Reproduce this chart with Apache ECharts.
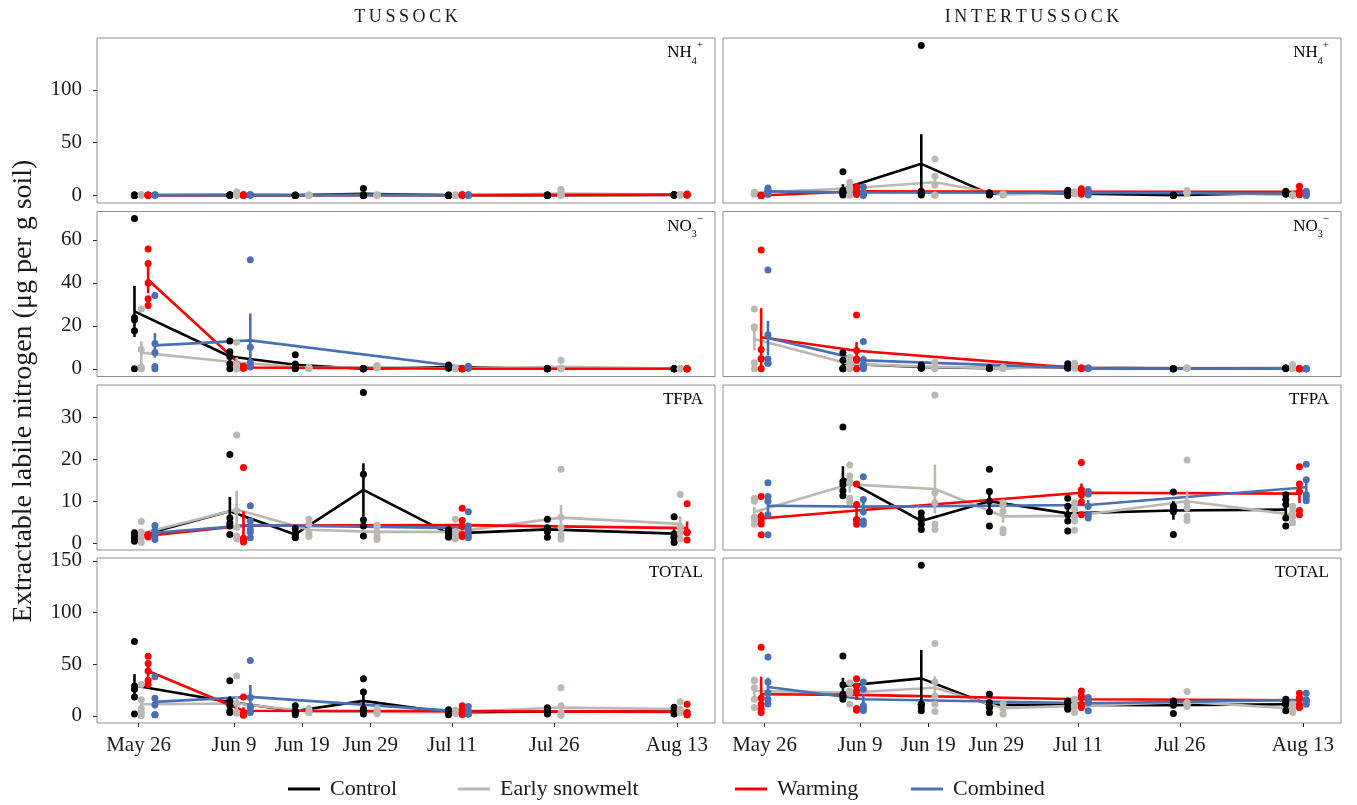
<!DOCTYPE html>
<html>
<head>
<meta charset="utf-8">
<script src="https://cdn.jsdelivr.net/npm/echarts@6/dist/echarts.min.js"></script>
<style>
  html, body { margin: 0; padding: 0; background: #fff; }
  #chart { width: 1357px; height: 805px; }
</style>
</head>
<body>
<div id="chart"></div>
<script>
// treatments, colours and axis ticks
var treatments = ['Control', 'Early snowmelt', 'Warming', 'Combined'];
var colors = ['#000000', '#bcb8b1', '#ff0000', '#4a6fb5'];
var tickDays = [0, 14, 24, 34, 46, 61, 79];
var tickLabels = ['May 26', 'Jun 9', 'Jun 19', 'Jun 29', 'Jul 11', 'Jul 26', 'Aug 13'];
var panelNames = ['NH4', 'NO3', 'TFPA', 'TOTAL'];
var yTicks = [[0, 50, 100], [0, 20, 40, 60], [0, 10, 20, 30], [0, 50, 100, 150]];

// sampling days (days after May 26, dodged per treatment)
var tusDaysCtrl = [-0.6, 13.4, 23, 33, 45.5, 60, 78.6];
var tusDaysSnow = [0.4, 14.4, 25, 35, 46.5, 62, 79.5];
var tusDaysWarm = [1.4, 15.4, 47.5, 80.5];
var tusDaysComb = [2.4, 16.4, 48.4];
var intDaysCtrl = [11.5, 23, 33, 44.5, 60, 76.5];
var intDaysSnow = [-1.5, 12.5, 25, 35, 45.5, 62, 77.5];
var intDaysWarm = [-0.5, 13.5, 46.5, 78.5];
var intDaysComb = [0.5, 14.5, 47.5, 79.5];

// rows: [mean, se, replicate values...]
// NH4+
var tusNh4Ctrl = [[0.3,0.1,0,0.2,0.4,0.5,0.3],[0.4,0.2,0.1,0.3,0.5,0.8,0.4],[0.2,0.1,0,0.1,0.2,0.3,0.4],[1.5,1.3,6.6,0.1,0.3,0.2,0.4],[0.2,0.1,0,0.2,0.3,0.4,0.1],[0.3,0.1,0.1,0.3,0.5,0.4,0.2],[0.6,0.2,0.5,1.0,0.8,0.3,0.4]];
var tusNh4Snow = [[0.5,0.2,0.2,0.5,0.8,0.4,0.6],[1.0,0.6,3.5,0.3,0.5,0.2,0.4],[0.3,0.1,0.2,0.3,0.5,0.1,0.4],[0.4,0.2,0.2,0.5,0.8,0.1,0.3],[0.3,0.1,0.2,0.4,0.1,0.5,0.3],[1.8,1.0,5.7,2.5,0.2,0.4,0.3],[0.8,0.3,0.5,1.2,0.8,0.3,1.0]];
var tusNh4Warm = [[0.3,0.1,0.2,0.3,0.5,0.1,0.4],[0.4,0.1,0.3,0.5,0.2,0.6,0.4],[0.4,0.1,0.4,0.2,0.6,0.5,0.3],[0.8,0.3,0.5,1.5,1.0,0.4,0.6]];
var tusNh4Comb = [[0.4,0.1,0.3,0.5,0.2,0.6,0.4],[0.5,0.1,0.4,0.6,0.3,0.7,0.5],[0.4,0.1,0.3,0.5,0.2,0.6,0.4]];
var intNh4Ctrl = [[6.5,4.2,22.6,5,3,1.5,0.5],[30,28,142,4,3,2,0.5],[1.6,0.5,2.5,1.5,1,0.5,2.2],[2,1,5,3,1.5,0.5,0],[0.3,0.1,0.5,0.3,0.2,0.1,0.3],[2.5,0.6,4,3,2.5,1.8,1.2]];
var intNh4Snow = [[2.5,0.5,3.2,2.8,2.0,1.3,3.0],[6.8,2.2,12.6,7.2,8,6,0.3],[12.6,6,34.6,18.2,10,0.3,0.5],[1,0.3,1.5,1,0.5,1.2,0.8],[2.4,0.4,3.5,2.5,2,2.8,1.5],[3,0.5,4.7,3,2.5,2.2,2.6],[0.3,0.1,0.5,0.3,0.2,0.4,0.1]];
var intNh4Warm = [[0,0.1,0,0,0,0.1,0.2],[4,1.3,8.5,5,3.5,2,1],[3.4,0.9,6.3,4,3,2.5,1.3],[3.5,1.4,8.8,4,2.5,1.5,0.7]];
var intNh4Comb = [[3.9,1,7,5,4,2.5,1],[2.8,1.4,8,3,2,1,0],[2.6,0.9,5.7,3,2.5,1.5,0.5],[1.6,0.7,4,2,1.5,0.5,0]];
// NO3-
var tusNo3Ctrl = [[26.7,11.9,69.9,23.7,22.8,17.7,0],[5.7,2.3,12.9,7.9,5.7,2.2,0],[1.9,1.2,6.5,2.2,0.6,0,0.1],[0,0,0,0,0,0,0],[0.8,0.3,1.7,1.0,0.5,0.6,0.2],[0,0,0,0,0,0,0],[0,0,0,0,0,0,0]];
var tusNo3Snow = [[7.5,5.3,27.8,9.1,0.8,0,0],[2.9,2.4,12.4,1.9,0,0,0.2],[0.4,0.2,0.5,0.8,0.3,0.2,0.1],[0.8,0.3,1.5,0.5,1.2,0.6,0.3],[0.1,0.1,0,0.2,0.1,0,0.2],[0.9,0.8,4.0,0.3,0.2,0,0],[0.1,0.1,0,0.1,0.2,0,0]];
var tusNo3Warm = [[41.4,6.2,55.8,49,32.6,29.5,39.9],[0.6,0.3,1.2,0.8,0.3,0.5,0.2],[0,0,0,0,0,0,0],[0,0,0,0,0,0,0]];
var tusNo3Comb = [[10.9,5.7,34.1,11.8,7.6,1,0],[13.2,12.5,50.7,10,3,1.5,0.8],[0.6,0.3,1.2,0.8,0.5,0.3,0.2]];
var intNo3Ctrl = [[2.3,1.4,7.4,4,0,0.2,0],[0.8,0.4,1.8,1.2,0.5,0.2,0.3],[0.3,0.1,0.5,0.3,0.2,0.1,0.4],[0.9,0.4,2.3,1,0.5,0.4,0.3],[0,0,0,0,0,0,0],[0.2,0.1,0.3,0.2,0.1,0.2,0.2]];
var intNo3Snow = [[13.8,5.3,27.8,19.5,19,2.8,0],[2.2,1,5.3,2.6,2.5,0.5,0],[0.9,0.6,3.1,0,0.5,0.3,0.6],[0.3,0.1,0.5,0.3,0.2,0.1,0.4],[0.8,0.5,2.6,0.5,0.4,0.3,0.2],[0.3,0.1,0.5,0.3,0.2,0.1,0.4],[0.5,0.4,2,0.2,0.1,0.1,0.1]];
var intNo3Warm = [[14.7,13.5,55.3,9,4.7,4.5,0],[8.4,4,25,4,4.5,8.5,0],[0.2,0.1,0.3,0.2,0.1,0.2,0.2],[0,0,0,0,0,0,0]];
var intNo3Comb = [[14.3,8,46,15.8,4.5,2.6,2.6],[3.9,2.2,12.7,4.2,1.9,0.6,0],[0.2,0.1,0.3,0.2,0.1,0.2,0.2],[0,0,0,0,0,0,0]];
// TFPA
var tusTfpaCtrl = [[1.5,0.4,2.5,1.8,1.2,0.9,0.5],[7.6,3.4,21.1,6.0,4.8,4.1,2.1],[2.1,0.6,3.5,2.3,1.3,2,1.4],[12.7,6.3,35.8,16.4,5.6,4.1,1.7],[2.3,0.4,3.2,2.9,2.4,1.6,1.4],[3.3,0.8,5.7,3.7,2.9,1.4,2.8],[2.3,1,6.3,1.3,1.5,0.2,2.2]];
var tusTfpaSnow = [[2.3,0.8,5.2,2.1,1.3,0.2,2.7],[8.0,4.5,25.7,7.8,3.8,1.7,1],[3.2,0.7,5.7,4.5,2.5,1.7,1.6],[2.7,0.6,4.1,2.7,1.5,0.9,4.3],[2.7,0.8,5.7,2.5,1,1.5,2.8],[6.1,3,17.6,3.7,2,1,6.2],[4.6,1.8,11.6,4.1,1,2.5,3.8]];
var tusTfpaWarm = [[1.8,0.2,1.7,1.5,2.1,1.9,1.8],[4.2,3.4,18,1.2,0.9,0.6,0.3],[4.3,1.2,8.3,5.4,4.1,1.6,2.1],[3.6,1.6,9.4,2.7,0.8,2.5,2.6]];
var tusTfpaComb = [[2.5,0.6,4.2,2.9,1.7,0.9,2.8],[4.3,1.4,8.9,5.3,2.7,1.3,3.3],[3.6,1.2,7.5,4.1,2,1.3,3.1]];
var intTfpaCtrl = [[15.5,2.8,27.6,14.7,13.9,12.5,11.3],[5.3,0.8,7.2,6,4.5,3.3,5.5],[10,2.3,17.6,12.3,10,7.5,4.1],[7.1,1.5,10.7,8.8,6.8,5.3,2.9],[7.8,2.2,12.2,8.8,8.4,2.1,7.5],[8,1.7,11.5,10.4,9.2,6,4.1]];
var intTfpaSnow = [[7.4,1.2,10.7,10,5.6,4.5,6.2],[14,2,18.6,14.7,10.7,9.8,16],[12.9,5.8,35.2,9.6,12,4.5,3.3],[6.4,1.5,9.6,7.6,3.3,2.5,9],[6.5,1.1,9.6,8,6.4,5.3,3.1],[10,2.5,19.8,9.6,8.4,6.4,5.4],[6.8,0.8,8.8,7.6,6.4,4.9,6.3]];
var intTfpaWarm = [[5.9,1.6,11.1,6.4,5.3,2,4.6],[7.8,1.9,14.1,9.2,5.6,4.5,5.6],[12,2.2,19.2,12.7,11.5,9.8,6.8],[11.8,2.2,18.2,14.1,12.3,7.8,6.8]];
var intTfpaComb = [[8.9,2.2,14.4,11.1,10,6.8,2],[8.7,2.1,15.8,10.4,5.3,4.5,7.5],[9.1,1.2,12.3,11.7,8.8,6.8,6],[13.3,1.9,18.8,15.1,10.1,11.5,11]];
// TOTAL
var tusTotCtrl = [[29.3,11,72,28.8,25.6,18.3,1.6],[13.3,5.6,34,14.4,10.3,3.2,4.6],[4.6,1.6,9.6,3.2,1,4.5,4.7],[14.4,6.5,35.9,23,4.8,1.6,6.7],[3.2,1,5.8,1,3.2,2.5,3.5],[4.2,1.1,7.7,3.8,1.6,4.5,3.4],[4.2,1.2,8.3,3.8,1.6,3.5,3.8]];
var tusTotSnow = [[11.2,5.5,30.4,15.4,3.2,0,7],[11.9,6.7,38.5,12.2,3.2,2.5,3.1],[4.2,1.2,7,3.2,4.5,3,3.3],[3.8,1.1,7,1.6,4,3,3.4],[3.5,0.8,5.5,2,3.5,3,3.5],[8,4.3,27.2,3.2,9.6,0.6,0.4],[6.4,1.8,13.5,6.4,3.2,4.5,4.4]];
var tusTotWarm = [[43.3,6.4,57.7,50.6,43.3,34.3,30.4],[4.8,3.5,18.3,3,1,1.2,0.5],[4.5,1.3,9.6,6.4,3.2,2,1.3],[3.8,2,11.2,3.2,1,2.5,1.1]];
var tusTotComb = [[13.5,6.5,37.8,17,10.6,1,1.1],[18.3,11.5,53.5,17.6,8,3.2,9.2],[3.8,1.4,9,4.8,1.6,2,1.6]];
var intTotCtrl = [[28.8,8,58,20.8,16,30,19],[36.2,27.5,145.8,11.2,4.8,8,11.2],[10.6,3.1,20.8,12.8,8,3.2,8.2],[10.6,2,14.4,12.2,12,8,6.4],[10.3,2.5,14.4,10.3,2.2,12.5,12.1],[11.2,2,16,12.8,4.8,11,11.4]];
var intTotSnow = [[24,5,34.6,27.2,16,8,34.2],[22.4,4,32,24,11.2,22,22.8],[27.2,11,69.9,32.7,19.2,11.2,4.2],[7.4,2,12.2,1.6,8,7,8.2],[9.6,2.3,16,9.6,3.2,9,10.2],[13.5,2.5,23.4,12.8,9,11,11.3],[7,1.6,11.2,3.2,7,6.8,6.8]];
var intTotWarm = [[20.8,17,66.3,17,11.2,6.4,3.2],[20.2,5,35.9,28.8,24,5.4,7],[16,2.8,24,19.2,11.2,8,17.6],[15,2.5,21.8,16.7,11.2,8,17.3]];
var intTotComb = [[27.9,9,57,32.7,22.4,16,11.4],[16,5,32.7,25.6,9.6,5.1,7],[12.2,2.5,17.6,12.8,4.8,13,12.8],[15.4,2.5,21.8,15.4,11.2,14,14.6]];

// lookup tables built from the arrays above
var siteDays = [
  [tusDaysCtrl, tusDaysSnow, tusDaysWarm, tusDaysComb],
  [intDaysCtrl, intDaysSnow, intDaysWarm, intDaysComb]
];
var panelRows = [
  [[tusNh4Ctrl, tusNh4Snow, tusNh4Warm, tusNh4Comb], [intNh4Ctrl, intNh4Snow, intNh4Warm, intNh4Comb]],
  [[tusNo3Ctrl, tusNo3Snow, tusNo3Warm, tusNo3Comb], [intNo3Ctrl, intNo3Snow, intNo3Warm, intNo3Comb]],
  [[tusTfpaCtrl, tusTfpaSnow, tusTfpaWarm, tusTfpaComb], [intTfpaCtrl, intTfpaSnow, intTfpaWarm, intTfpaComb]],
  [[tusTotCtrl, tusTotSnow, tusTotWarm, tusTotComb], [intTotCtrl, intTotSnow, intTotWarm, intTotComb]]
];

var FONT = "'Liberation Serif', 'DejaVu Serif', serif";
var TXT = '#1a1a1a';
var gridTops = [38, 211.5, 385, 558];
var gridLefts = [97, 723];
var yMin = [-7.1, -3.6, -1.6, -7.0];
var yMax = [149.2, 73.2, 37.6, 152.8];

var myChart = echarts.init(document.getElementById('chart'));

var grids = [], xAxes = [], yAxes = [], series = [], graphics = [];

var labelRich = {
  m: { fontFamily: FONT, fontSize: 17, color: TXT, lineHeight: 20 },
  s: { fontFamily: FONT, fontSize: 10, color: TXT, verticalAlign: 'bottom', padding: [0, 0, -3, 0] },
  p: { fontFamily: FONT, fontSize: 11, color: TXT, verticalAlign: 'top', padding: [-3, 0, 0, 0] }
};
var panelText = ['{m|NH}{s|4}{p|+}', '{m|NO}{s|3}{p|\u2212}', '{m|TFPA}', '{m|TOTAL}'];

for (var r = 0; r < 4; r++) {
  for (var c = 0; c < 2; c++) {
    var k = r * 2 + c;
    grids.push({
      left: gridLefts[c], top: gridTops[r], width: 618, height: 165,
      show: true, borderColor: '#8f8f8f', borderWidth: 1, backgroundColor: '#fff'
    });
    xAxes.push({
      gridIndex: k, type: 'value', min: -6.1, max: 84.6, position: 'bottom',
      axisLine: { show: false, onZero: false }, splitLine: { show: false },
      axisTick: { show: r === 3, customValues: tickDays, length: 4, lineStyle: { color: '#333' } },
      axisLabel: {
        show: r === 3, customValues: tickDays, margin: 12,
        fontFamily: FONT, fontSize: 21, color: TXT,
        formatter: function (v) { return tickLabels[tickDays.indexOf(v)]; }
      }
    });
    yAxes.push({
      gridIndex: k, type: 'value', min: yMin[r], max: yMax[r], position: 'left',
      axisLine: { show: false, onZero: false }, splitLine: { show: false },
      axisTick: { show: c === 0, customValues: yTicks[r], length: 4, lineStyle: { color: '#333' } },
      axisLabel: {
        show: c === 0, customValues: yTicks[r], margin: 15,
        fontFamily: FONT, fontSize: 21, color: TXT
      }
    });

    var panelSeries = [[], [], []];
    for (var t = 0; t < 4; t++) {
      var days = siteDays[c][t];
      var rows = panelRows[r][c][t];
      var lineData = [], barData = [], ptData = [];
      rows.forEach(function (row, i) {
        lineData.push([days[i], row[0]]);
        barData.push([days[i], row[0] - row[1], row[0] + row[1]]);
        for (var j = 2; j < row.length; j++) ptData.push([days[i], row[j]]);
      });
      panelSeries[0].push({
        name: treatments[t], type: 'line', xAxisIndex: k, yAxisIndex: k,
        data: lineData, showSymbol: false, z: 2,
        itemStyle: { color: colors[t] },
        lineStyle: { color: colors[t], width: 2.6 }
      });
      panelSeries[1].push({
        name: treatments[t] + ' se', type: 'custom', xAxisIndex: k, yAxisIndex: k,
        data: barData, z: 3,
        encode: { x: 0, y: [1, 2] },
        renderItem: (function (col) {
          return function (params, api) {
            var a = api.coord([api.value(0), api.value(1)]);
            var b = api.coord([api.value(0), api.value(2)]);
            return {
              type: 'line',
              shape: { x1: a[0], y1: a[1], x2: b[0], y2: b[1] },
              style: { stroke: col, lineWidth: 2.6 }
            };
          };
        })(colors[t])
      });
      panelSeries[2].push({
        name: treatments[t] + ' pts', type: 'scatter', xAxisIndex: k, yAxisIndex: k,
        data: ptData, symbolSize: 7, z: 4,
        itemStyle: { color: colors[t], opacity: 1 }
      });
    }
    series = series.concat(panelSeries[0], panelSeries[1], panelSeries[2]);

    graphics.push({
      type: 'text',
      x: gridLefts[c] + 606, y: gridTops[r] + 5,
      style: { text: panelText[r], rich: labelRich, align: 'right', verticalAlign: 'top' }
    });
  }
}

// strip titles and y axis title
graphics.push({
  type: 'text', x: 406, y: 17,
  style: { text: 'T\u2009U\u2009S\u2009S\u2009O\u2009C\u2009K', fontFamily: FONT, fontSize: 18, fill: TXT, align: 'center', verticalAlign: 'middle' }
});
graphics.push({
  type: 'text', x: 1032, y: 17,
  style: { text: 'I\u2009N\u2009T\u2009E\u2009R\u2009T\u2009U\u2009S\u2009S\u2009O\u2009C\u2009K', fontFamily: FONT, fontSize: 18, fill: TXT, align: 'center', verticalAlign: 'middle' }
});
graphics.push({
  type: 'text', x: 24, y: 391, rotation: Math.PI / 2,
  style: { text: 'Extractable labile nitrogen (\u03bcg per g soil)', fontFamily: FONT, fontSize: 28, fill: TXT, align: 'center', verticalAlign: 'middle' }
});

var legendLefts = [288, 458, 735, 911];
var legends = treatments.map(function (name, i) {
  return {
    data: [{ name: name, itemStyle: { color: colors[i] } }],
    left: legendLefts[i], top: 778, padding: 0,
    icon: 'rect', itemWidth: 32, itemHeight: 3, selectedMode: false,
    textStyle: { fontFamily: FONT, fontSize: 22, color: TXT, padding: [0, 0, 0, 5] }
  };
});

var option = {
  backgroundColor: '#fff',
  animation: false,
  grid: grids,
  xAxis: xAxes,
  yAxis: yAxes,
  legend: legends,
  graphic: graphics,
  series: series
};

myChart.setOption(option);
</script>
</body>
</html>
